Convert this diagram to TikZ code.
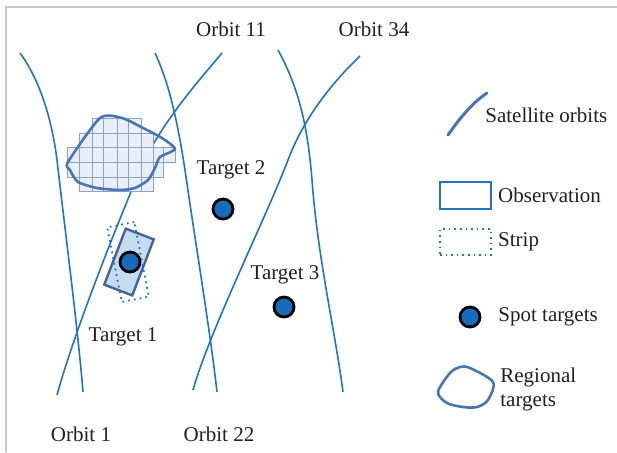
\documentclass[tikz,border=0pt]{standalone}
\usepackage{fontspec}
\setmainfont{Liberation Serif}
\usetikzlibrary{positioning}
\definecolor{orbitblue}{RGB}{31,117,196}
\definecolor{spotblue}{RGB}{23,107,186}
\definecolor{regionblue}{RGB}{72,118,178}
\definecolor{obsfill}{RGB}{197,219,240}
\definecolor{obsline}{RGB}{70,100,150}
\definecolor{gridline}{RGB}{140,162,192}
\definecolor{gridfill}{RGB}{232,239,247}
\definecolor{textgray}{RGB}{35,31,32}
\definecolor{framegray}{RGB}{200,200,200}
\tikzset{
  orbit/.style={orbitblue, line width=0.8pt},
  spot/.style={circle, draw=black, fill=spotblue, line width=1.4pt, minimum size=10pt, inner sep=0pt},
  lbl/.style={text=textgray, font=\fontsize{10.5}{12}\selectfont, inner sep=1pt},
  region/.style={regionblue, line width=1.3pt, line join=round},
  cellline/.style={gridline, line width=0.45pt},
  obsbox/.style={draw=obsline, fill=obsfill, line width=1.2pt, inner sep=0pt},
  stripbox/.style={draw=orbitblue, dotted, line width=0.9pt, inner sep=0pt},
}

\begin{document}
\begin{tikzpicture}[x=0.5pt, y=-0.5pt]
  \useasboundingbox (0,0) rectangle (617,452);
  % Cadre
  \draw[framegray, line width=1pt] (6,452) -- (6,7) -- (617,7);

  % Orbites
  \draw[orbit] (20,53) .. controls (40,80) and (52,120) .. (57,160) .. controls (65,230) and (78,330) .. (83,392);
  \draw[orbit] (155,53) .. controls (170,85) and (178,125) .. (185,170) .. controls (195,240) and (210,330) .. (217,392);
  \draw[orbit] (278,50) .. controls (300,90) and (308,130) .. (312,180) .. controls (318,260) and (335,330) .. (343,392);
  \draw[orbit] (222,53) .. controls (195,85) and (160,125) .. (140,170) .. controls (115,230) and (75,330) .. (57,395);
  \draw[orbit] (360,56) .. controls (335,80) and (305,115) .. (288,160) .. controls (265,220) and (210,330) .. (193,390);

  % Cible regionale : grille de bandes
  \foreach \ya/\yb/\xa/\xb in {118/133/92/141, 133/147/79/153, 147/162/67/175, 162/177/67/163, 177/191/79/153}{
    \fill[gridfill] (\xa,\ya) rectangle (\xb,\yb);
    \begin{scope}
      \clip (\xa,\ya) rectangle (\xb,\yb);
      \foreach \cx in {79,92,103,117,128,141,153,163}
        \draw[cellline] (\cx,\ya) -- (\cx,\yb);
    \end{scope}
    \draw[cellline] (\xa,\ya) rectangle (\xb,\yb);
  }
  \draw[region] plot[smooth cycle, tension=0.4] coordinates {(68,162) (100,118) (122,118) (143,128) (162,138) (175,149) (160,157) (155,168) (148,180) (135,188) (120,190) (97,188) (78,182) (70,170)};

  % Observation et bande autour de la cible 1
  \node[obsbox, rotate=-21, minimum width=15pt, minimum height=30pt] (obs) at (129,262) {};
  \node[stripbox, rotate=11, minimum width=13.8pt, minimum height=38pt] (strip) at (128,262) {};

  % Cibles ponctuelles
  \node[spot] (t1) at (130,262) {};
  \node[spot] (t2) at (223,209) {};
  \node[spot] (t3) at (284,307) {};
  \node[lbl] (t1lab) at (123,337) {Target 1};
  \node[lbl] (t2lab) at (231,170) {Target 2};
  \node[lbl] (t3lab) at (285,275) {Target 3};

  % Noms des orbites
  \node[lbl] (o11) at (231,29) {Orbit 11};
  \node[lbl] (o34) at (374,29) {Orbit 34};
  \node[lbl] (o1) at (81,434) {Orbit 1};
  \node[lbl] (o22) at (219,434) {Orbit 22};

  % Legende
  \draw[regionblue, line width=1.5pt, line cap=round] (448,135) .. controls (460,118) and (472,103) .. (487,93);
  \node[lbl, anchor=west] (legorb) at (483,115) {Satellite orbits};
  \node[draw=orbitblue, line width=0.8pt, minimum width=25.5pt, minimum height=13.5pt, inner sep=0pt] (legobs) at (465.5,195.5) {};
  \node[lbl, anchor=west, right=2pt of legobs] {Observation};
  \node[draw=orbitblue, dotted, line width=0.8pt, minimum width=25.5pt, minimum height=13pt, inner sep=0pt] (legstrip) at (465.5,242) {};
  \node[lbl, anchor=west, right=2pt of legstrip] {Strip};
  \node[spot] (legspot) at (470,317) {};
  \node[lbl, anchor=west] (legspotlab) at (496,317) {Spot targets};
  \draw[region] plot[smooth cycle, tension=0.5] coordinates {(438,392) (450,373) (460,367) (470,368) (493,382) (488,400) (477,407) (463,407) (447,403)};
  \node[lbl, anchor=west, align=left] (legreg) at (498,389) {Regional\\targets};
\end{tikzpicture}
\end{document}
